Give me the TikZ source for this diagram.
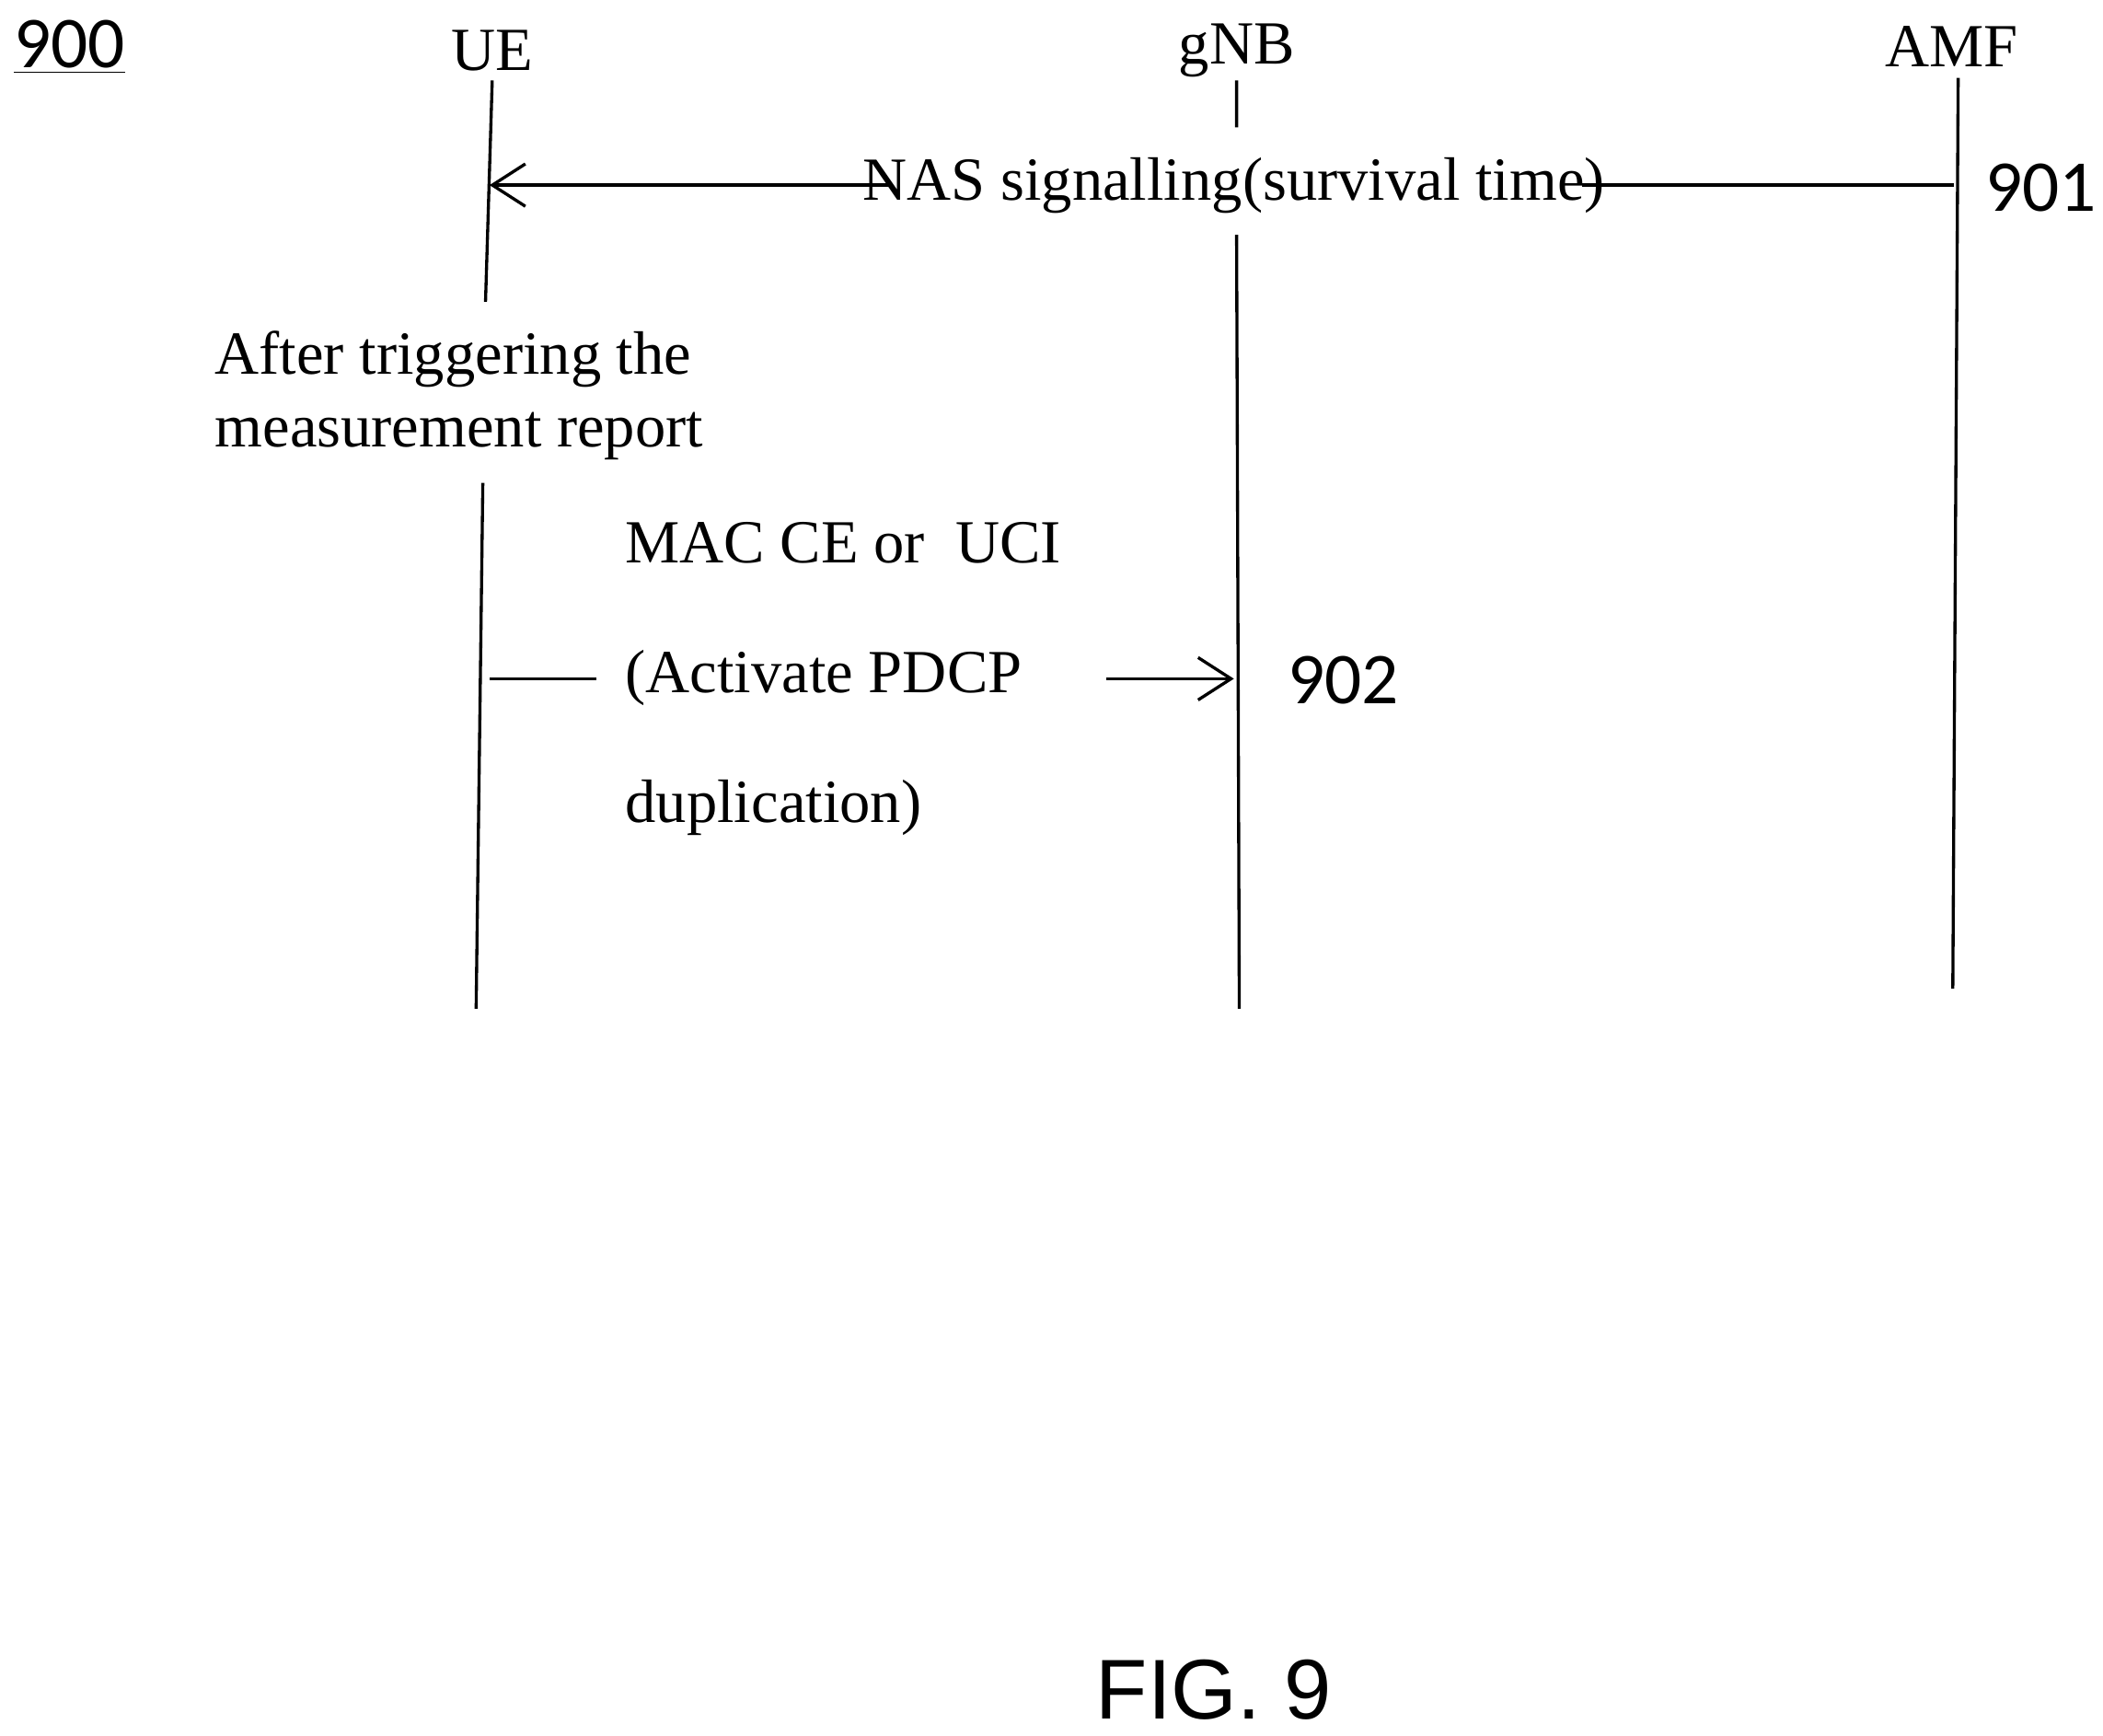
\documentclass[tikz,border=0pt]{standalone}
\usepackage{fontspec}
\setmainfont{Liberation Serif}
\newfontfamily\numfont{Carlito}
\newfontfamily\figfont{Liberation Sans}
\usetikzlibrary{arrows.meta}
\begin{document}
\begin{tikzpicture}[x=0.02cm,y=-0.02cm,
  lbl/.style={font=\fontsize{26}{31}\selectfont,inner sep=0pt},
  num/.style={font=\numfont\fontsize{31}{36}\selectfont,inner sep=0pt},
  ln/.style={line width=1.3pt},
  arr/.style={ln,-{Straight Barb[length=14pt,width=18pt,line width=1.3pt]}}]
\useasboundingbox (0,0) rectangle (1568,1294);
\node[num,anchor=center] (n900) at (52,35) {\underline{900}};
\node[lbl] (ue) at (367,38) {UE};
\node[lbl] (gnb) at (922,38) {gNB};
\node[lbl] (amf) at (1455,35) {AMF};
% lifelines
\coordinate (ue1) at (367,60); \coordinate (ue2) at (362,225);
\coordinate (ue3) at (360,360); \coordinate (ue4) at (355,752);
\coordinate (g1) at (922,60); \coordinate (g2) at (922,95);
\coordinate (g3) at (922,175); \coordinate (g4) at (924,752);
\coordinate (a1) at (1460,58); \coordinate (a2) at (1456,737);
\draw[ln] (ue1)--(ue2) (ue3)--(ue4) (g1)--(g2) (g3)--(g4) (a1)--(a2);
% NAS
\node[lbl] (nas) at (920,138) {NAS signalling(survival time)};
\coordinate (nasR) at (1457,138); \coordinate (nasL) at (365,138);
\draw[ln] (nasR) -- ([xshift=-0.35cm]nas.east);
\draw[arr] ([xshift=0.4cm]nas.west) -- (nasL);
\node[num,anchor=west] (n901) at (1480,140) {901};
\node[lbl,anchor=west,align=left] (after) at (160,295) {After triggering the\\measurement report};
% MAC CE
\node[lbl,anchor=west,align=left,font=\fontsize{26}{55}\selectfont] (mac) at (466,506) {MAC CE or\ \ UCI\\(Activate PDCP\\duplication)};
\coordinate (m1) at (365,506); \coordinate (m2) at (445,506);
\coordinate (m3) at (825,506); \coordinate (m4) at (920,506);
\draw[ln] (m1)--(m2);
\draw[arr] (m3)--(m4);
\node[num,anchor=west] (n902) at (960,507) {902};
\node[font=\figfont\fontsize{36}{40}\selectfont,inner sep=0pt] (fig) at (905,1260) {FIG. 9};
\end{tikzpicture}
\end{document}
